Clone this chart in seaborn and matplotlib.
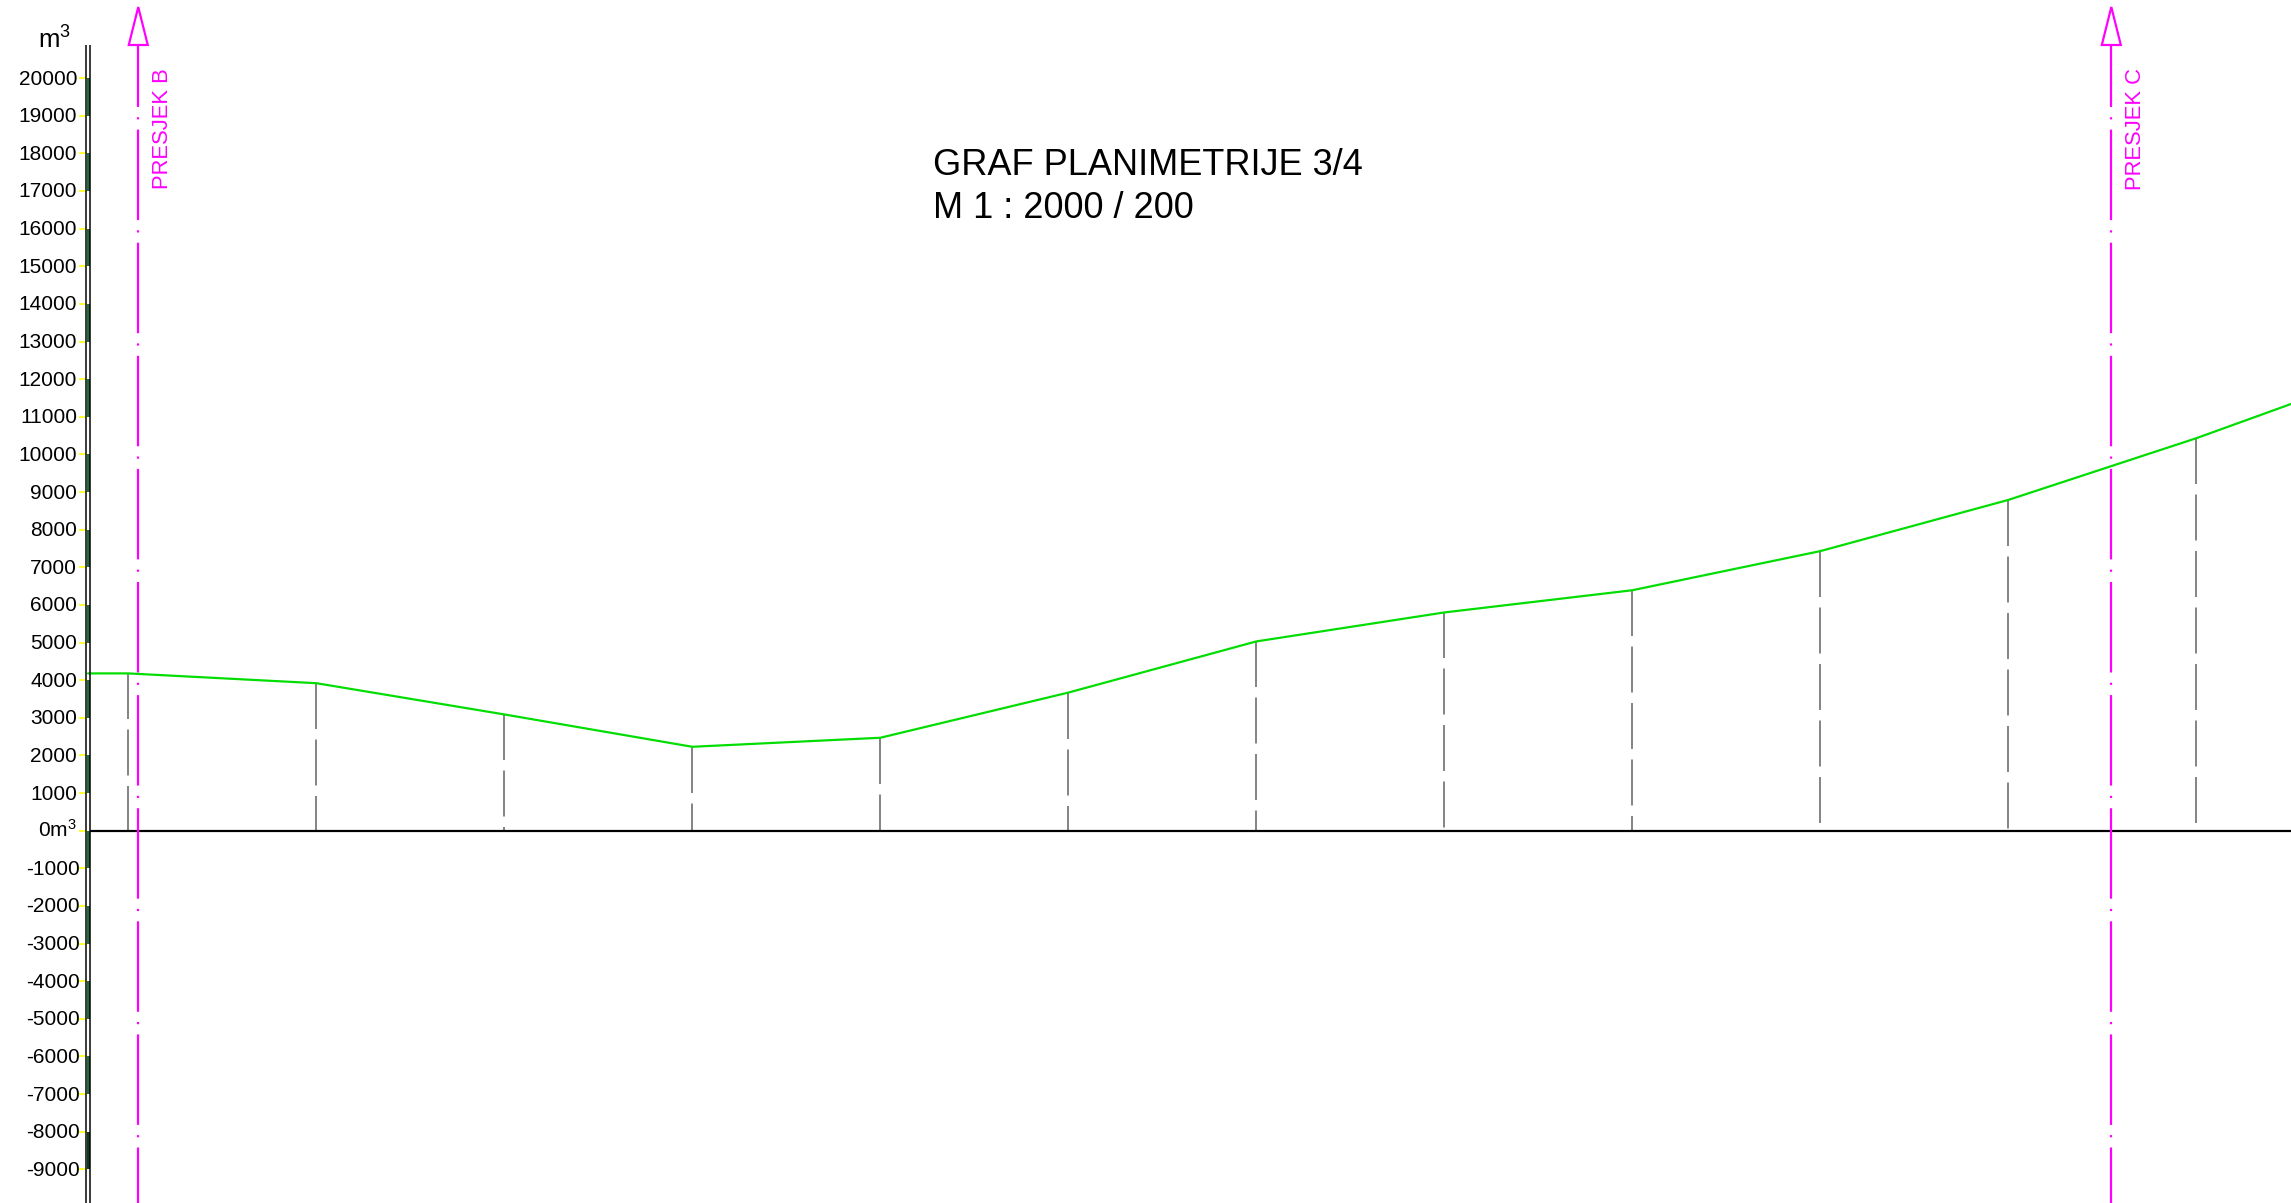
import matplotlib
matplotlib.use("Agg")
import matplotlib.pyplot as plt
from matplotlib.patches import Polygon
import numpy as np
import pandas as pd
import seaborn as sns

# ---------------- data ----------------
line_x = [-0.214, 0, 1, 2, 3, 4, 5, 6, 7, 8, 9, 10, 11, 11.504]
volumes = [4180, 4180, 3920, 3090, 2230, 2470, 3670, 5030, 5800, 6390, 7430, 8790, 10430, 11340]
stations = [0, 1, 2, 3, 4, 5, 6, 7, 8, 9, 10, 11]
station_volumes = [4180, 3920, 3090, 2230, 2470, 3670, 5030, 5800, 6390, 7430, 8790, 10430]
tick_values = list(range(20000, -10000, -1000))
tick_labels = [("0m$^3$" if v == 0 else str(v)) for v in tick_values]
section_x = [0.053, 10.548]
section_labels = ["PRESJEK B", "PRESJEK C"]
title_lines = ["GRAF PLANIMETRIJE 3/4", "M 1 : 2000 / 200"]
unit_label = "m$^3$"

# ---------------- style ----------------
sns.set_style("white")
plt.rcParams["font.family"] = ["Liberation Sans", "DejaVu Sans"]
plt.rcParams["mathtext.default"] = "regular"
plt.rcParams["lines.scale_dashes"] = False

W, H, DPI = 2291, 1203, 100
PX_X0, PX_DX = 128.3, 188.0      # station 0 pixel, pixels per station
PX_Y0, PX_DY = 830.7, 37.63      # zero pixel, pixels per 1000


def dx(px):
    return (px - PX_X0) / PX_DX


def dy(py):
    return (PX_Y0 - py) / PX_DY * 1000


def pt(px):
    return px * 72.0 / DPI


fig = plt.figure(figsize=(W / DPI, H / DPI), dpi=DPI)
ax = fig.add_axes([0, 0, 1, 1])
ax.set_xlim(dx(0), dx(W))
ax.set_ylim(dy(H), dy(0))
ax.axis("off")

MAGENTA = "#FF00FF"

# station verticals (dashed grey)
ax.vlines(stations, station_volumes, [0] * len(stations), colors="#808080",
          linewidth=pt(1.9), linestyles=[(0, (pt(46), pt(10.5)))], zorder=2)

# zero line
ax.plot([dx(90), dx(W)], [0, 0], color="black", lw=pt(2.2), zorder=3,
        solid_capstyle="butt")

# volume line
df = pd.DataFrame({"x": line_x, "v": volumes})
sns.lineplot(data=df, x="x", y="v", ax=ax, color="#00DD00", lw=pt(2.2),
             sort=False, estimator=None, zorder=4)
ax.set_xlabel("")
ax.set_ylabel("")

# vertical axis: double line with alternating green fill
top_v = dy(45)
bottom_v = dy(H)
for v in tick_values:
    if v % 2000 == 0 and v - 1000 >= tick_values[-1]:
        col = "#22693C" if v > -8000 else "#0E3D1E"
        ax.fill_betweenx([v - 1000, v], dx(86.6), dx(89.6), color=col, lw=0, zorder=3)
for xp in (85.9, 90.2):
    ax.plot([dx(xp), dx(xp)], [bottom_v, top_v], color="black", lw=pt(1.5), zorder=5,
            solid_capstyle="butt")

# yellow ticks and labels
for v, lab in zip(tick_values, tick_labels):
    ax.plot([dx(79), dx(86)], [v, v], color="#FFFF00", lw=pt(1.6), zorder=4,
            solid_capstyle="butt")
    right_px = 80 if v < 0 else 77
    ax.text(dx(right_px), v - 6.5 / PX_DY * 1000, lab, ha="right", va="baseline",
            fontsize=15, color="black")

ax.text(dx(38.5), dy(48.3), unit_label, ha="left", va="baseline", fontsize=18.5,
        color="black")

# section lines (magenta, dash-dot) with arrows
for sx, slab in zip(section_x, section_labels):
    ax.plot([sx, sx], [dy(45), dy(H)], color=MAGENTA, lw=pt(2.2), zorder=6,
            linestyle=(pt(28.5), (pt(90.5), pt(10.2), pt(2.2), pt(10.2))),
            dash_capstyle="butt")
    hw = 9.5 / PX_DX
    tri = Polygon([(sx - hw, dy(45)), (sx, dy(7)), (sx + hw, dy(45))], closed=True,
                  facecolor="white", edgecolor=MAGENTA, lw=pt(2.2), zorder=7)
    ax.add_patch(tri)
    ax.text(sx + 24.5 / PX_DX, dy(128.5), slab, rotation=90, ha="center", va="center",
            fontsize=15.8, color=MAGENTA, zorder=7)

# title
ax.text(dx(932.7), dy(175), title_lines[0], ha="left", va="baseline", fontsize=26,
        color="black")
ax.text(dx(932.7), dy(218.3), title_lines[1], ha="left", va="baseline", fontsize=26,
        color="black")

fig.savefig("out.png", dpi=DPI, facecolor="white")
